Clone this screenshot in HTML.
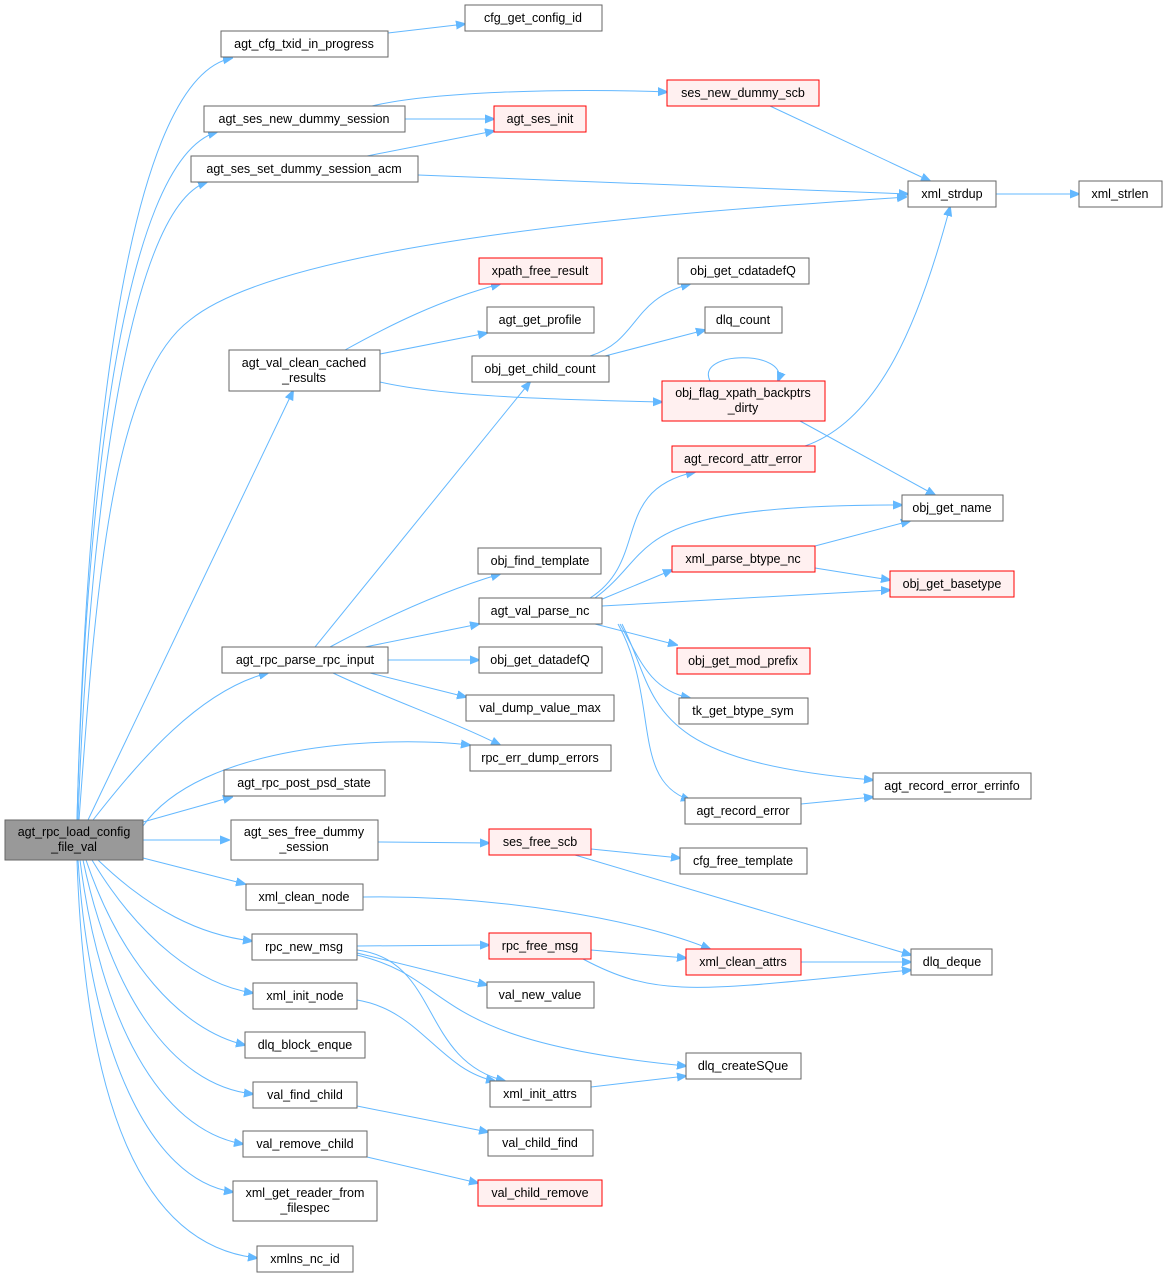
<!DOCTYPE html>
<html><head><meta charset="utf-8"><style>
html,body{margin:0;padding:0;background:#fff;}
svg text{font-family:"Liberation Sans",Arial,sans-serif;font-size:12.5px;fill:#000;text-anchor:middle;}
.n{fill:#fff;stroke:#666;stroke-width:1;}
.r{fill:#fff0f0;stroke:#f00;stroke-width:1;}
.m{fill:#999;stroke:#666;stroke-width:1;}
.e{fill:none;stroke:#63b8ff;stroke-width:1;}
</style></head><body>
<svg width="1168" height="1277" viewBox="0 0 1168 1277" xmlns="http://www.w3.org/2000/svg">
<defs><marker id="a" viewBox="0 0 10 10" refX="9" refY="5" markerWidth="10" markerHeight="10" markerUnits="userSpaceOnUse" orient="auto"><path d="M0,1 L10,5 L0,9 z" fill="#63b8ff" stroke="#63b8ff"/></marker></defs>
<g marker-end="url(#a)">
<path class="e" d="M77,820 C85,500 120,80 232,58"/>
<path class="e" d="M77,820 C85,520 120,160 217,132"/>
<path class="e" d="M78,820 C88,540 125,210 207,182"/>
<path class="e" d="M79,820 C95,600 110,380 190,320 C300,230 800,205 906,197"/>
<path class="e" d="M88,820 L293,391"/>
<path class="e" d="M93,820 C140,760 200,690 268,673"/>
<path class="e" d="M143,826 C200,745 380,735 470,745"/>
<path class="e" d="M143,822 L232,797"/>
<path class="e" d="M143,840 L229,840"/>
<path class="e" d="M143,858 L245,884"/>
<path class="e" d="M98,860 C150,910 200,935 252,941"/>
<path class="e" d="M92,860 C140,940 200,985 253,993"/>
<path class="e" d="M86,860 C120,960 180,1030 245,1045"/>
<path class="e" d="M83,860 C110,990 170,1085 253,1094"/>
<path class="e" d="M80,860 C100,1020 160,1130 243,1144"/>
<path class="e" d="M78,860 C90,1050 150,1180 233,1192"/>
<path class="e" d="M77,860 C85,1100 140,1245 257,1258"/>
<path class="e" d="M388,33 L465,24"/>
<path class="e" d="M372,106 C430,92 560,88 667,92"/>
<path class="e" d="M405,119 L494,119"/>
<path class="e" d="M367,156 L494,131"/>
<path class="e" d="M418,175 L908,194"/>
<path class="e" d="M770,106 L930,181"/>
<path class="e" d="M996,194 L1079,194"/>
<path class="e" d="M345,350 C390,325 440,300 500,284"/>
<path class="e" d="M380,354 L487,333"/>
<path class="e" d="M380,382 C450,398 580,400 662,402"/>
<path class="e" d="M590,356 C640,340 630,300 690,284"/>
<path class="e" d="M605,356 L705,330"/>
<path class="e" d="M710,381 C695,350 790,350 778,381"/>
<path class="e" d="M800,421 L935,495"/>
<path class="e" d="M805,446 C880,420 920,320 950,207"/>
<path class="e" d="M315,647 L530,382"/>
<path class="e" d="M330,647 C380,620 440,592 500,574"/>
<path class="e" d="M365,647 L479,624"/>
<path class="e" d="M388,660 L479,660"/>
<path class="e" d="M370,673 L466,697"/>
<path class="e" d="M333,673 C390,700 450,720 500,745"/>
<path class="e" d="M590,598 C650,560 610,490 695,472"/>
<path class="e" d="M595,598 C660,550 620,505 902,505"/>
<path class="e" d="M600,600 L672,570"/>
<path class="e" d="M602,606 L890,590"/>
<path class="e" d="M595,624 L677,645"/>
<path class="e" d="M620,624 C640,660 650,690 690,698"/>
<path class="e" d="M622,624 C660,700 640,760 873,780"/>
<path class="e" d="M618,624 C660,700 630,780 690,800"/>
<path class="e" d="M815,546 L910,521"/>
<path class="e" d="M815,568 L890,580"/>
<path class="e" d="M801,804 L873,797"/>
<path class="e" d="M378,842 L489,843"/>
<path class="e" d="M591,849 L680,858"/>
<path class="e" d="M575,855 L911,955"/>
<path class="e" d="M363,897 C500,895 640,920 710,949"/>
<path class="e" d="M357,946 L489,945"/>
<path class="e" d="M357,953 L487,985"/>
<path class="e" d="M357,950 C440,960 420,1060 505,1081"/>
<path class="e" d="M357,955 C460,980 420,1040 686,1066"/>
<path class="e" d="M357,1000 C420,1010 440,1070 495,1081"/>
<path class="e" d="M591,950 L686,958"/>
<path class="e" d="M583,959 C660,1000 700,990 911,970"/>
<path class="e" d="M801,962 L911,962"/>
<path class="e" d="M591,1087 L686,1076"/>
<path class="e" d="M357,1106 L488,1132"/>
<path class="e" d="M367,1157 L478,1183"/>
</g>
<rect class="m" x="5" y="820" width="138" height="40"/><text x="74" y="836">agt_rpc_load_config</text><text x="74" y="851">_file_val</text>
<rect class="n" x="221" y="31" width="167" height="26"/><text x="304" y="48">agt_cfg_txid_in_progress</text>
<rect class="n" x="204" y="106" width="201" height="26"/><text x="304" y="123">agt_ses_new_dummy_session</text>
<rect class="n" x="191" y="156" width="227" height="26"/><text x="304" y="173">agt_ses_set_dummy_session_acm</text>
<rect class="n" x="229" y="350" width="151" height="41"/><text x="304" y="367">agt_val_clean_cached</text><text x="304" y="382">_results</text>
<rect class="n" x="222" y="647" width="166" height="26"/><text x="305" y="664">agt_rpc_parse_rpc_input</text>
<rect class="n" x="224" y="770" width="161" height="26"/><text x="304" y="787">agt_rpc_post_psd_state</text>
<rect class="n" x="231" y="820" width="147" height="40"/><text x="304" y="836">agt_ses_free_dummy</text><text x="304" y="851">_session</text>
<rect class="n" x="246" y="884" width="117" height="26"/><text x="304" y="901">xml_clean_node</text>
<rect class="n" x="252" y="934" width="105" height="26"/><text x="304" y="951">rpc_new_msg</text>
<rect class="n" x="253" y="983" width="104" height="26"/><text x="305" y="1000">xml_init_node</text>
<rect class="n" x="245" y="1032" width="120" height="26"/><text x="305" y="1049">dlq_block_enque</text>
<rect class="n" x="253" y="1082" width="104" height="26"/><text x="305" y="1099">val_find_child</text>
<rect class="n" x="243" y="1131" width="124" height="26"/><text x="305" y="1148">val_remove_child</text>
<rect class="n" x="233" y="1181" width="144" height="40"/><text x="305" y="1197">xml_get_reader_from</text><text x="305" y="1212">_filespec</text>
<rect class="n" x="257" y="1246" width="96" height="26"/><text x="305" y="1263">xmlns_nc_id</text>
<rect class="n" x="465" y="5" width="137" height="26"/><text x="533" y="22">cfg_get_config_id</text>
<rect class="r" x="494" y="106" width="92" height="26"/><text x="540" y="123">agt_ses_init</text>
<rect class="r" x="479" y="258" width="123" height="26"/><text x="540" y="275">xpath_free_result</text>
<rect class="n" x="487" y="307" width="107" height="26"/><text x="540" y="324">agt_get_profile</text>
<rect class="n" x="472" y="356" width="137" height="26"/><text x="540" y="373">obj_get_child_count</text>
<rect class="n" x="478" y="548" width="123" height="26"/><text x="540" y="565">obj_find_template</text>
<rect class="n" x="479" y="598" width="123" height="26"/><text x="540" y="615">agt_val_parse_nc</text>
<rect class="n" x="479" y="647" width="123" height="26"/><text x="540" y="664">obj_get_datadefQ</text>
<rect class="n" x="466" y="695" width="148" height="26"/><text x="540" y="712">val_dump_value_max</text>
<rect class="n" x="470" y="745" width="141" height="26"/><text x="540" y="762">rpc_err_dump_errors</text>
<rect class="r" x="489" y="829" width="102" height="26"/><text x="540" y="846">ses_free_scb</text>
<rect class="r" x="489" y="933" width="102" height="26"/><text x="540" y="950">rpc_free_msg</text>
<rect class="n" x="487" y="982" width="107" height="26"/><text x="540" y="999">val_new_value</text>
<rect class="n" x="490" y="1081" width="101" height="26"/><text x="540" y="1098">xml_init_attrs</text>
<rect class="n" x="488" y="1130" width="105" height="26"/><text x="540" y="1147">val_child_find</text>
<rect class="r" x="478" y="1180" width="124" height="26"/><text x="540" y="1197">val_child_remove</text>
<rect class="r" x="667" y="80" width="152" height="26"/><text x="743" y="97">ses_new_dummy_scb</text>
<rect class="n" x="678" y="258" width="131" height="26"/><text x="743" y="275">obj_get_cdatadefQ</text>
<rect class="n" x="705" y="307" width="77" height="26"/><text x="743" y="324">dlq_count</text>
<rect class="r" x="662" y="381" width="163" height="40"/><text x="743" y="397">obj_flag_xpath_backptrs</text><text x="743" y="412">_dirty</text>
<rect class="r" x="672" y="446" width="143" height="26"/><text x="743" y="463">agt_record_attr_error</text>
<rect class="r" x="672" y="546" width="143" height="26"/><text x="743" y="563">xml_parse_btype_nc</text>
<rect class="r" x="677" y="648" width="133" height="26"/><text x="743" y="665">obj_get_mod_prefix</text>
<rect class="n" x="679" y="698" width="129" height="26"/><text x="743" y="715">tk_get_btype_sym</text>
<rect class="n" x="685" y="798" width="116" height="26"/><text x="743" y="815">agt_record_error</text>
<rect class="n" x="680" y="848" width="127" height="26"/><text x="743" y="865">cfg_free_template</text>
<rect class="r" x="686" y="949" width="115" height="26"/><text x="743" y="966">xml_clean_attrs</text>
<rect class="n" x="686" y="1053" width="115" height="26"/><text x="743" y="1070">dlq_createSQue</text>
<rect class="n" x="908" y="181" width="88" height="26"/><text x="952" y="198">xml_strdup</text>
<rect class="n" x="902" y="495" width="101" height="26"/><text x="952" y="512">obj_get_name</text>
<rect class="r" x="890" y="571" width="124" height="26"/><text x="952" y="588">obj_get_basetype</text>
<rect class="n" x="873" y="773" width="158" height="26"/><text x="952" y="790">agt_record_error_errinfo</text>
<rect class="n" x="911" y="949" width="81" height="26"/><text x="952" y="966">dlq_deque</text>
<rect class="n" x="1079" y="181" width="83" height="26"/><text x="1120" y="198">xml_strlen</text>
</svg>
</body></html>
